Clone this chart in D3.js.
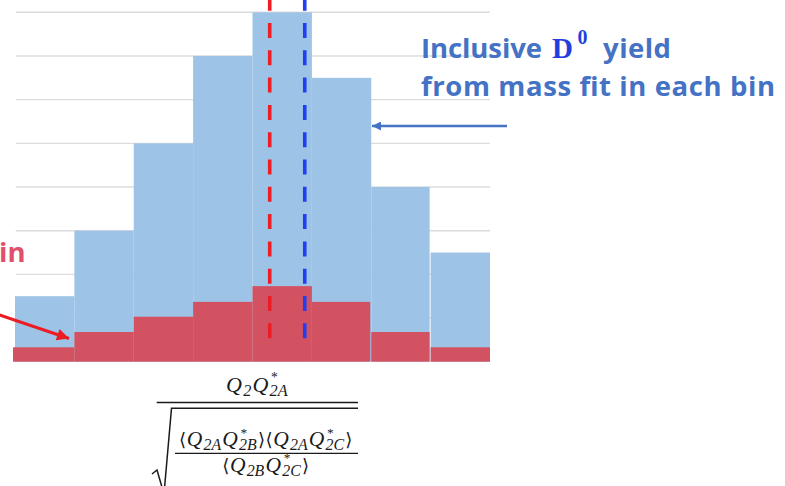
<!DOCTYPE html>
<html>
<head>
<meta charset="utf-8">
<script src="https://cdn.jsdelivr.net/npm/d3@7"></script>
<style>
  html, body { margin: 0; padding: 0; background: #fff; }
  svg { display: block; }
</style>
</head>
<body>
<svg id="chart" width="785" height="486"></svg>
<script>
// Histogram bins (bin index edges 0..8)
const bins = [0, 1, 2, 3, 4, 5, 6, 7];
// Inclusive yield per bin (from mass fit)
const inclusiveYield = [1.5, 3.0, 5.0, 7.0, 8.0, 6.5, 4.0, 2.5];
// Signal yield per bin
const signalYield = [0.33, 0.68, 1.03, 1.37, 1.73, 1.37, 0.68, 0.33];
// Horizontal grid values
const gridValues = [1, 2, 3, 4, 5, 6, 7, 8];
// Mean positions (in bin units)
const signalMean = 4.29;
const inclusiveMean = 4.88;

const svg = d3.select("#chart");

const x = d3.scaleLinear().domain([0, 8]).range([15, 490]);
const y = d3.scaleLinear().domain([0, 8]).range([361.7, 12.3]);

const BLUE_BAR = "#9dc3e6";
const RED_BAR = "#d35262";
const TEXT_BLUE = "#4472c4";

// grid
svg.append("g").selectAll("line").data(gridValues).join("line")
  .attr("x1", x(0) + 0.7).attr("x2", x(8))
  .attr("y1", d => y(d)).attr("y2", d => y(d))
  .attr("stroke", "#dcdcdc").attr("stroke-width", 1.4);

// inclusive bars
svg.append("g").selectAll("rect").data(bins).join("rect")
  .attr("x", d => x(d)).attr("width", d => x(d + 1) - x(d) - (d === 6 ? 1 : 0))
  .attr("y", d => y(inclusiveYield[d]))
  .attr("height", d => y(0) - y(inclusiveYield[d]))
  .attr("fill", BLUE_BAR);

// signal bars
svg.append("g").selectAll("rect").data(bins).join("rect")
  .attr("x", d => x(d) - (d === 0 ? 2 : 0))
  .attr("width", d => x(d + 1) - x(d) + (d === 0 ? 2 : 0) - (d === 5 || d === 6 ? 1 : 0))
  .attr("y", d => y(signalYield[d]))
  .attr("height", d => y(0) - y(signalYield[d]))
  .attr("fill", RED_BAR);

// mean lines
const lineBottom = 338.3;
[[signalMean, "#ee1c25"], [inclusiveMean, "#1f3ff0"]].forEach(([m, c]) => {
  svg.append("line")
    .attr("x1", x(m)).attr("x2", x(m))
    .attr("y1", lineBottom).attr("y2", 0)
    .attr("stroke", c).attr("stroke-width", 3.6)
    .attr("stroke-dasharray", "15,12.3");
});

// arrowheads
const defs = svg.append("defs");
function marker(id, color, w, h) {
  defs.append("marker").attr("id", id)
    .attr("viewBox", "0 0 10 10").attr("refX", 10).attr("refY", 5)
    .attr("markerUnits", "userSpaceOnUse")
    .attr("markerWidth", w).attr("markerHeight", h)
    .attr("orient", "auto")
    .append("path").attr("d", "M0,0 L10,5 L0,10 Z").attr("fill", color);
}
marker("arrBlue", TEXT_BLUE, 10, 9);
marker("arrRed", "#ec1c24", 15, 12);

svg.append("line")
  .attr("x1", 507).attr("y1", 126).attr("x2", 372).attr("y2", 126)
  .attr("stroke", TEXT_BLUE).attr("stroke-width", 2.3)
  .attr("marker-end", "url(#arrBlue)");

svg.append("line")
  .attr("x1", -2).attr("y1", 314.5).attr("x2", 69).attr("y2", 338.5)
  .attr("stroke", "#ec1c24").attr("stroke-width", 3)
  .attr("marker-end", "url(#arrRed)");

// annotation texts
const sans = "'Open Sans', Lato, sans-serif";
const serif = "'Liberation Serif', 'DejaVu Serif', serif";
const labelSize = 27.5;

function label(str, x0, y0, width, color) {
  return svg.append("text").attr("x", x0).attr("y", y0)
    .attr("font-family", sans).attr("font-weight", 700).attr("font-size", labelSize)
    .attr("fill", color).attr("textLength", width).attr("lengthAdjust", "spacing")
    .text(str);
}

label("Inclusive", 421, 57.5, 121, TEXT_BLUE);
svg.append("text").attr("x", 552).attr("y", 58)
  .attr("font-family", serif).attr("font-weight", 700).attr("font-size", 29)
  .attr("fill", "#1f3fe0").text("D");
svg.append("text").attr("x", 577.5).attr("y", 43.5)
  .attr("font-family", serif).attr("font-weight", 700).attr("font-size", 20)
  .attr("fill", "#1f3fe0").text("0");
label("yield", 603, 57.5, 68, TEXT_BLUE);
label("from mass fit in each bin", 421, 96, 354, TEXT_BLUE);

svg.append("text").attr("x", -1).attr("y", 262)
  .attr("font-family", sans).attr("font-weight", 700).attr("font-size", labelSize)
  .attr("fill", "#e0506a").text("in");

// formula
const INK = "#1a1a1a";
function mathRow(tokens, size, cx, baseline) {
  const g = svg.append("g");
  let cur = 0;
  tokens.forEach(tk => {
    const b = g.append("text").attr("x", cur).attr("y", baseline)
      .attr("font-family", tk.up ? "'DejaVu Serif', serif" : serif)
      .attr("font-style", tk.up ? "normal" : "italic")
      .attr("font-size", tk.up ? size * 0.85 : size).attr("fill", INK).text(tk.b);
    cur += b.node().getComputedTextLength() + (tk.up ? 0.5 : 1.2);
    let w = 0;
    if (tk.sub) {
      const s = g.append("text").attr("x", cur).attr("y", baseline + size * 0.2)
        .attr("font-family", serif).attr("font-style", "italic")
        .attr("font-size", size * 0.74).attr("fill", INK).text(tk.sub);
      w = Math.max(w, s.node().getComputedTextLength());
    }
    if (tk.sup) {
      const s = g.append("text").attr("x", cur + 1.5).attr("y", baseline - size * 0.43)
        .attr("font-family", serif)
        .attr("font-size", size * 0.62).attr("fill", INK).text(tk.sup);
      w = Math.max(w, s.node().getComputedTextLength());
    }
    cur += w + (w ? 1.2 : 0);
  });
  g.attr("transform", `translate(${cx - cur / 2},0)`);
  return g;
}
const Q = (sub, sup) => ({ b: "Q", sub, sup });
const la = { b: "\u27E8", up: true }, ra = { b: "\u27E9", up: true };

mathRow([Q("2"), Q("2A", "*")], 22, 257.5, 391.5);
mathRow([la, Q("2A"), Q("2B", "*"), ra, la, Q("2A"), Q("2C", "*"), ra], 21.5, 266, 446);
mathRow([la, Q("2B"), Q("2C", "*"), ra], 21.5, 266, 471.5);

svg.append("line").attr("x1", 156.7).attr("x2", 358).attr("y1", 402.5).attr("y2", 402.5)
  .attr("stroke", INK).attr("stroke-width", 1.6);
svg.append("line").attr("x1", 175).attr("x2", 358).attr("y1", 453.3).attr("y2", 453.3)
  .attr("stroke", INK).attr("stroke-width", 1.3);
svg.append("path").attr("d", "M152,474 L157,470 L164,494 L171.5,408.3 H358")
  .attr("fill", "none").attr("stroke", INK).attr("stroke-width", 1.5);
</script>
</body>
</html>
